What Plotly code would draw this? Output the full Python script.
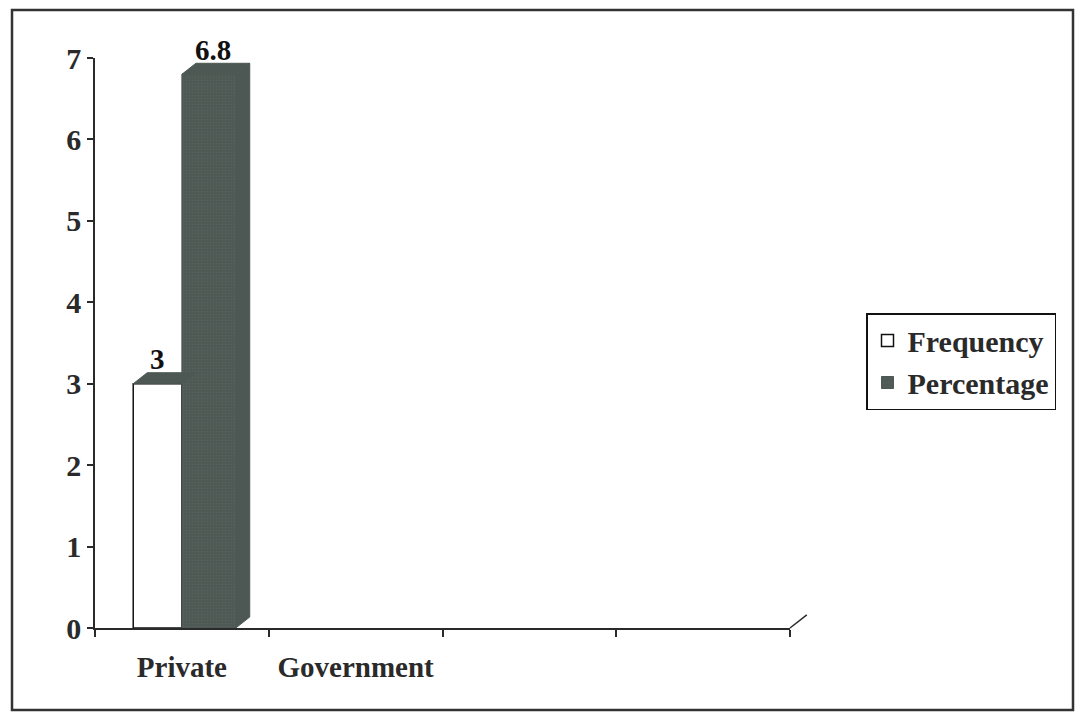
import plotly.graph_objects as go

# Chart data
categories = ["Private", "Government", "", ""]
frequency = [3, None, None, None]
percentage = [6.8, None, None, None]
y_ticks = [0, 1, 2, 3, 4, 5, 6, 7]

W, H = 1077, 716
L, R, T, B = 95, 287, 58, 88
plot_w, plot_h = W - L - R, H - T - B
y_max = 7
x_lo, x_hi = -0.5, len(categories) - 0.5

# depth of the pseudo-3D faces, in pixels and in axis units
DPX, DPY = 14, 11
DX = DPX / plot_w * (x_hi - x_lo)
DY = DPY / plot_h * y_max

DARK = "#4d5854"
INK = "#2a2a2a"
FONT = "Liberation Serif"

# bar geometry (in category units)
f_off, f_w = -0.28, 0.28
p_off, p_w = 0.0, 0.31

xs = list(range(len(categories)))

fig = go.Figure()
fig.add_trace(go.Bar(
    x=xs, y=frequency, name="<b>Frequency</b>", width=f_w, offset=f_off,
    marker=dict(color="white", line=dict(color="#111", width=1.5)),
))
fig.add_trace(go.Bar(
    x=xs, y=percentage, name="<b>Percentage</b>", width=p_w, offset=p_off,
    marker=dict(color=DARK, line=dict(color=DARK, width=1),
                pattern=dict(shape=".", fgcolor="#5f6a66", bgcolor=DARK,
                             size=3, solidity=0.3)),
))

def face(xp, yp):
    fig.add_trace(go.Scatter(
        x=xp, y=yp, mode="lines", fill="toself", fillcolor=DARK,
        line=dict(color=DARK, width=1), showlegend=False, hoverinfo="skip",
    ))

annotations = []
for i, (fv, pv) in enumerate(zip(frequency, percentage)):
    if fv is not None:
        x0, x1 = i + f_off, i + f_off + f_w
        face([x0, x0 + DX, x1 + DX, x1, x0], [fv, fv + DY, fv + DY, fv, fv])
        annotations.append(dict(x=(x0 + x1) / 2, y=fv + DY, text=f"<b>{fv:g}</b>",
                                showarrow=False, yanchor="bottom", yshift=-4,
                                font=dict(family=FONT, size=29, color="#111")))
    if pv is not None:
        x0, x1 = i + p_off, i + p_off + p_w
        # top face
        face([x0, x0 + DX, x1 + DX, x1, x0], [pv, pv + DY, pv + DY, pv, pv])
        # side face
        face([x1, x1 + DX, x1 + DX, x1, x1], [0, DY, pv + DY, pv, 0])
        annotations.append(dict(x=(x0 + x1) / 2 + DX / 3, y=pv + DY, text=f"<b>{pv:g}</b>",
                                showarrow=False, yanchor="bottom", yshift=-5,
                                font=dict(family=FONT, size=29, color="#111")))

# floor edge at the right end of the category axis, plus the outer frame
fx0 = (12 - L) / plot_w
fx1 = (1073 - L) / plot_w
fy0 = ((H - 710) - B) / plot_h
fy1 = ((H - 10) - B) / plot_h
shapes = [
    dict(type="line", xref="paper", yref="paper", x0=1, y0=0,
         x1=1 + 1.2 * DPX / plot_w, y1=1.2 * DPY / plot_h,
         line=dict(color=INK, width=1.5)),
    dict(type="rect", xref="paper", yref="paper", x0=fx0, x1=fx1, y0=fy0, y1=fy1,
         line=dict(color="#333", width=2.5), layer="below"),
]

fig.update_layout(
    width=W, height=H,
    margin=dict(l=L, r=R, t=T, b=B),
    paper_bgcolor="white", plot_bgcolor="white",
    barmode="overlay",
    font=dict(family=FONT, size=29, color=INK),
    showlegend=True,
    legend=dict(
        x=(866 - L) / plot_w, y=((H - 313) - B) / plot_h,
        xanchor="left", yanchor="top",
        bordercolor="#111", borderwidth=1.5, bgcolor="white",
        font=dict(family=FONT, size=30, color=INK),
        itemwidth=30, tracegroupgap=0,
    ),
    xaxis=dict(
        range=[x_lo, x_hi], tickmode="array", tickvals=xs,
        ticktext=[f"<b>{c}</b>" for c in categories],
        ticks="outside", ticklen=12, tickcolor="rgba(0,0,0,0)",
        showline=True, linecolor=INK, linewidth=1.5,
        showgrid=False, zeroline=False, fixedrange=True,
        tickfont=dict(family=FONT, size=29, color=INK),
        minor=dict(tick0=x_lo, dtick=1, ticks="outside", ticklen=7,
                   tickcolor=INK, tickwidth=1.5, showgrid=False),
    ),
    yaxis=dict(
        range=[0, y_max], tickmode="array", tickvals=y_ticks,
        ticktext=[f"<b>{v}</b>" for v in y_ticks],
        ticks="outside", ticklen=6, tickcolor=INK, tickwidth=1.5,
        showline=True, linecolor=INK, linewidth=1.5,
        showgrid=False, zeroline=False, fixedrange=True,
        tickfont=dict(family=FONT, size=30, color=INK),
    ),
    annotations=annotations,
    shapes=shapes,
)

fig.write_html("out.html")
